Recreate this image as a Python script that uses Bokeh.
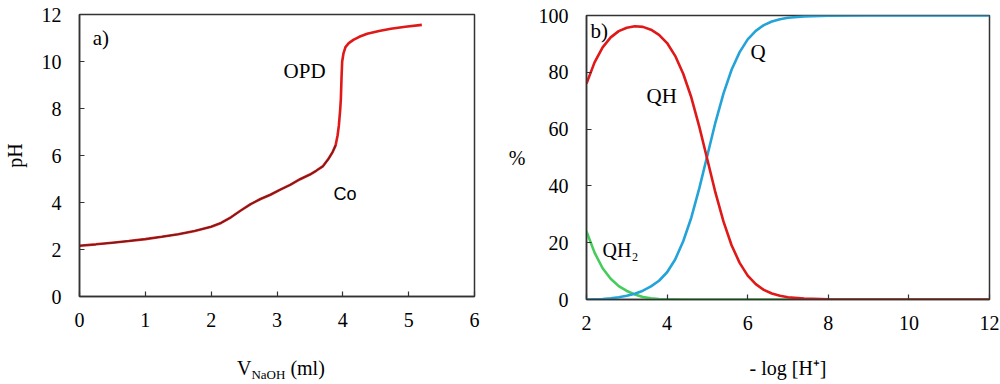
from bokeh.plotting import figure
from bokeh.layouts import row, column
from bokeh.models import Label, FixedTicker, Div
from bokeh.embed import file_html
from bokeh.resources import INLINE

# ---- panel a) titration curve (calculated, red) ----
V_calc = [0.0, 0.25, 0.5, 0.75, 1.0, 1.25, 1.5, 1.75, 2.0, 2.15, 2.3, 2.45, 2.6, 2.75,
          2.9, 3.05, 3.2, 3.35, 3.5, 3.6, 3.7, 3.78, 3.84, 3.89, 3.92, 3.94, 3.96, 3.97,
          3.98, 3.99, 4.01, 4.04, 4.09, 4.16, 4.25, 4.37, 4.55, 4.73, 4.95, 5.2]
pH_calc = [2.16, 2.22, 2.29, 2.36, 2.44, 2.54, 2.65, 2.79, 2.97, 3.13, 3.37, 3.66, 3.93, 4.15,
           4.33, 4.55, 4.75, 4.99, 5.19, 5.36, 5.55, 5.85, 6.12, 6.43, 6.85, 7.28, 7.95, 8.41,
           9.3, 10.0, 10.35, 10.61, 10.78, 10.92, 11.05, 11.18, 11.3, 11.39, 11.48, 11.56]
# experimental points (dark line, overlapping lower part)
V_exp = [0.0, 0.25, 0.5, 0.75, 1.0, 1.25, 1.5, 1.75, 2.0, 2.15, 2.3, 2.45, 2.6, 2.75,
         2.9, 3.05, 3.2, 3.35, 3.5, 3.6, 3.7, 3.78, 3.84, 3.89]
pH_exp = [2.16, 2.22, 2.29, 2.36, 2.44, 2.54, 2.65, 2.79, 2.97, 3.13, 3.37, 3.66, 3.93, 4.15,
          4.33, 4.55, 4.75, 4.99, 5.19, 5.36, 5.55, 5.85, 6.12, 6.43]

# ---- panel b) distribution diagram ----
plogH = [2.0, 2.2, 2.4, 2.6, 2.8, 3.0, 3.2, 3.4, 3.6, 3.8, 4.0, 4.2, 4.4, 4.6, 4.8, 5.0,
         5.2, 5.4, 5.6, 5.8, 6.0, 6.2, 6.4, 6.6, 6.8, 7.0, 7.4, 8.0, 9.0, 10.0, 11.0, 12.0]
QH2 = [24.0, 16.5, 11.0, 7.3, 4.7, 3.0, 1.8, 0.9, 0.4, 0.2, 0.1, 0.05, 0.0, 0.0, 0.0, 0.0,
       0.0, 0.0, 0.0, 0.0, 0.0, 0.0, 0.0, 0.0, 0.0, 0.0, 0.0, 0.0, 0.0, 0.0, 0.0, 0.0]
QH = [76.0, 83.5, 88.8, 92.3, 94.5, 95.7, 96.2, 96.0, 95.0, 93.2, 90.3, 85.8, 79.5, 71.2, 60.8, 49.2,
      37.6, 27.4, 19.1, 12.9, 8.4, 5.4, 3.4, 2.1, 1.3, 0.8, 0.3, 0.05, 0.0, 0.0, 0.0, 0.0]
Q = [0.0, 0.1, 0.2, 0.4, 0.8, 1.3, 2.0, 3.1, 4.6, 6.6, 9.6, 14.1, 20.5, 28.8, 39.2, 50.8,
     62.4, 72.6, 80.9, 87.1, 91.6, 94.6, 96.6, 97.9, 98.7, 99.2, 99.7, 99.95, 100.0, 100.0, 100.0, 100.0]

a_xticks = [0, 1, 2, 3, 4, 5, 6]
a_yticks = [0, 2, 4, 6, 8, 10, 12]
b_xticks = [2, 4, 6, 8, 10, 12]
b_yticks = [0, 20, 40, 60, 80, 100]

SERIF = "Liberation Serif"
SANS = "Liberation Sans"
AX = "#333333"


def style(p, xt, yt):
    p.xaxis.ticker = FixedTicker(ticks=xt)
    p.yaxis.ticker = FixedTicker(ticks=yt)
    for ax in (p.xaxis, p.yaxis):
        ax.axis_line_color = AX
        ax.axis_line_width = 1.5
        ax.major_tick_line_color = AX
        ax.major_tick_line_width = 1.2
        ax.major_tick_in = 5
        ax.major_tick_out = 0
        ax.minor_tick_line_color = None
        ax.major_label_text_font = SERIF
        ax.major_label_text_font_size = "20px"
        ax.major_label_text_color = "black"
        ax.axis_label_text_font = SERIF
        ax.axis_label_text_font_size = "20px"
        ax.axis_label_text_font_style = "normal"
        ax.axis_label_text_color = "black"
    p.xaxis.major_label_standoff = 16
    p.yaxis.major_label_standoff = 18
    p.xgrid.grid_line_color = None
    p.ygrid.grid_line_color = None
    p.outline_line_color = AX
    p.outline_line_width = 1.5
    p.background_fill_color = "white"
    p.border_fill_color = "white"


def lab(p, x, y, text, font=SERIF, size="21px"):
    p.add_layout(Label(x=x, y=y, text=text, text_font=font, text_font_size=size,
                       text_color="black", text_align="left", text_baseline="middle"))


LEFT_W = 503
pa = figure(width=LEFT_W, height=346, x_range=(0, 6), y_range=(0, 12),
            output_backend="svg", toolbar_location=None,
            min_border_left=79, min_border_right=29, min_border_top=14, min_border_bottom=50)
style(pa, a_xticks, a_yticks)
pa.yaxis.axis_label = "pH"
pa.yaxis.axis_label_standoff = 13

pa.line(V_calc, pH_calc, line_color="#e01818", line_width=2.6)
pa.line(V_exp, pH_exp, line_color="#3a2020", line_width=1.4, line_alpha=0.65)

lab(pa, 0.2, 11.0, "a)")
lab(pa, 3.1, 9.6, "OPD")
lab(pa, 3.86, 4.38, "Co", font=SANS, size="18px")

# x-axis title of panel a) with subscript (HTML text)
xlabel_a = Div(
    text=('<div style="padding-left:237px; padding-top:11px; white-space:nowrap; '
          'font-family:\'Liberation Serif\'; font-size:20px; line-height:23px; color:black;">'
          'V<span style="font-size:13px; position:relative; top:4px;">NaOH</span> (ml)</div>'),
    width=LEFT_W, height=38, margin=(0, 0, 0, 0))

pb = figure(width=1000 - LEFT_W, height=384, x_range=(2, 12), y_range=(0, 100),
            output_backend="svg", toolbar_location=None,
            min_border_left=83, min_border_right=11, min_border_top=15, min_border_bottom=85)
style(pb, b_xticks, b_yticks)
pb.yaxis.axis_label = "%"
pb.yaxis.axis_label_orientation = "horizontal"
pb.yaxis.axis_label_standoff = 10
pb.xaxis.axis_label = "- log [H\u207a]"
pb.xaxis.axis_label_standoff = 24

pb.line(plogH, QH2, line_color="#45cc5a", line_width=2.6)
pb.line(plogH, Q, line_color="#23a3d8", line_width=2.6)
pb.line(plogH, QH, line_color="#e01818", line_width=2.6)

lab(pb, 2.1, 94.7, "b)")
lab(pb, 6.07, 87, "Q")
lab(pb, 3.49, 71.5, "QH")
lab(pb, 2.40, 17.3, "QH\u2082", size="20px")

layout = row(column(pa, xlabel_a), pb)
open("out.html", "w").write(file_html(layout, INLINE))
